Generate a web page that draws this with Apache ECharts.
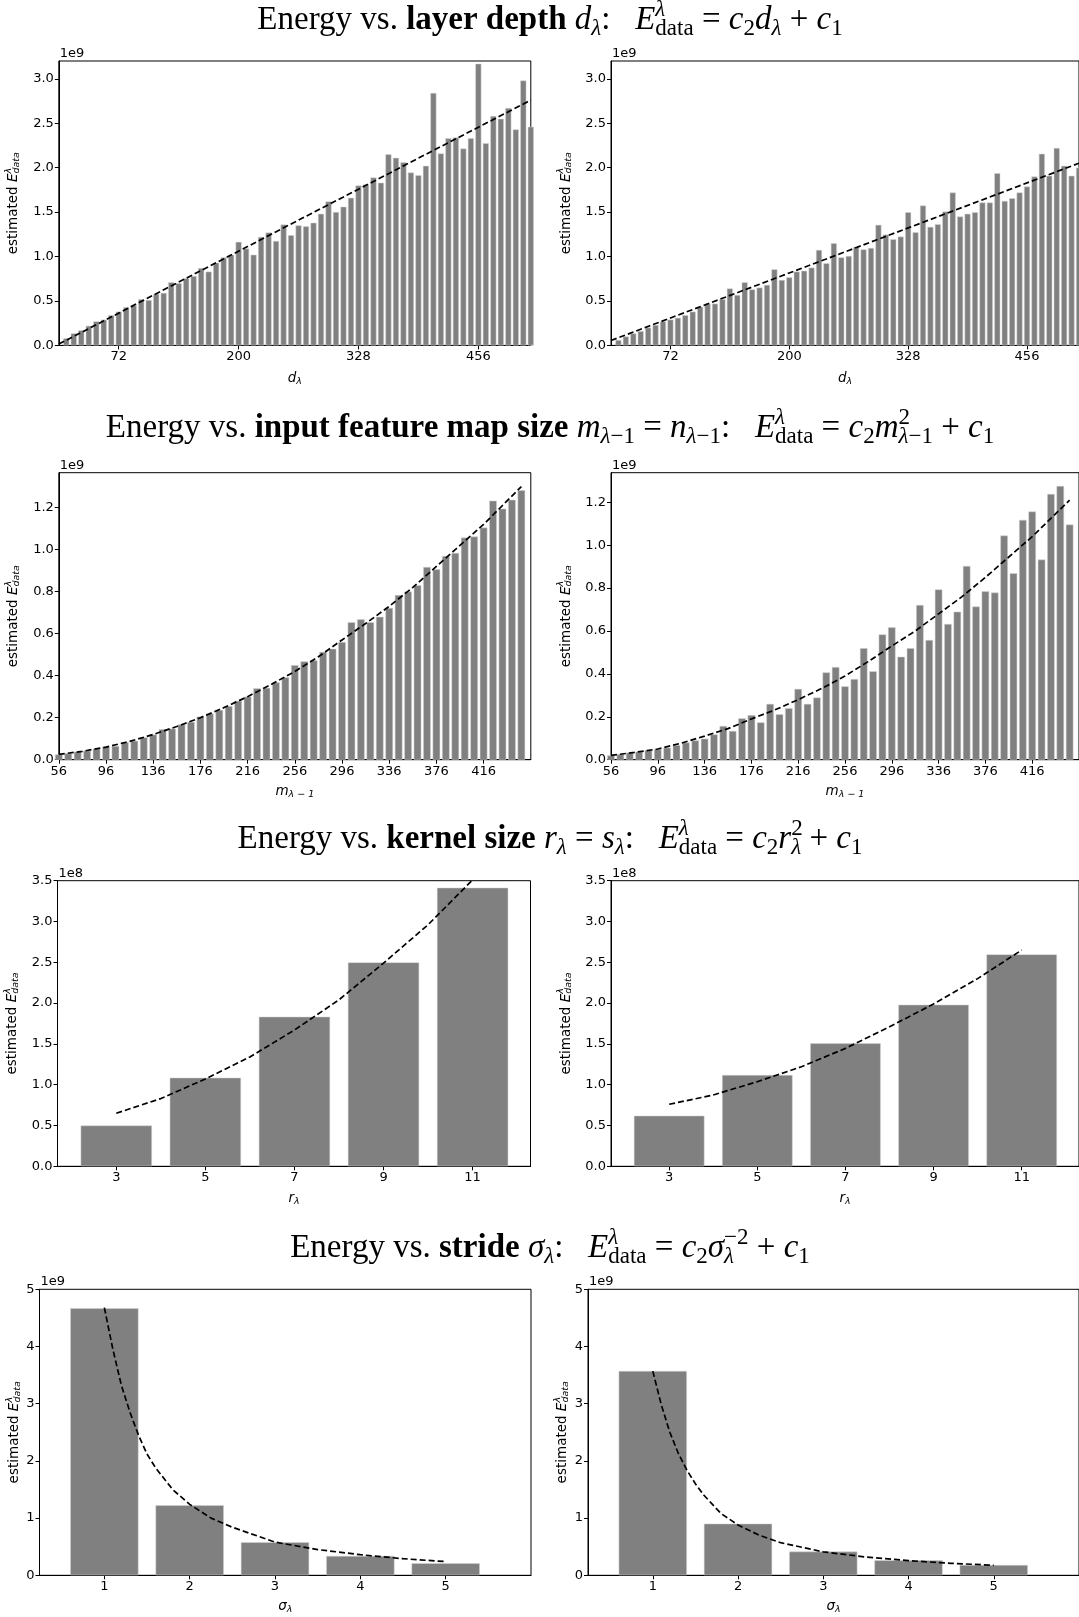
<!DOCTYPE html>
<html><head><meta charset="utf-8">
<script src="https://cdn.jsdelivr.net/npm/echarts@6/dist/echarts.min.js"></script>
<style>html,body{margin:0;padding:0;background:#fff}#c{width:1079px;height:1617px}</style>
</head><body><div id="c"></div>
<script>
// ---------- DATA ----------
const depthX = [16,24,32,40,48,56,64,72,80,88,96,104,112,120,128,136,144,152,160,168,176,184,192,200,208,216,224,232,240,248,256,264,272,280,288,296,304,312,320,328,336,344,352,360,368,376,384,392,400,408,416,424,432,440,448,456,464,472,480,488,496,504,512];
const depthLeft = [0.08,0.135,0.17,0.22,0.27,0.29,0.34,0.38,0.43,0.45,0.52,0.51,0.58,0.59,0.71,0.70,0.755,0.78,0.87,0.83,0.93,0.99,1.02,1.165,1.09,1.02,1.22,1.27,1.175,1.36,1.24,1.35,1.34,1.38,1.48,1.62,1.50,1.56,1.66,1.80,1.81,1.89,1.83,2.15,2.11,2.06,1.945,1.915,2.02,2.84,2.16,2.33,2.34,2.215,2.33,3.17,2.275,2.58,2.55,2.67,2.43,2.98,2.46];
const depthRight = [0.06,0.10,0.135,0.16,0.20,0.23,0.27,0.29,0.31,0.34,0.38,0.435,0.47,0.47,0.52,0.64,0.567,0.71,0.63,0.65,0.68,0.856,0.736,0.766,0.83,0.84,0.875,1.074,0.924,1.15,0.99,1.006,1.11,1.08,1.096,1.356,1.247,1.194,1.224,1.498,1.273,1.573,1.333,1.363,1.506,1.72,1.45,1.48,1.498,1.607,1.607,1.938,1.626,1.656,1.72,1.787,1.90,2.155,1.908,2.22,2.02,1.908,2.0];
const depthFitX = [8, 512];
const depthFitLeft = [0.015, 2.76];
const depthFitRight = [0.055, 2.05];
const depthTicks = [72, 200, 328, 456];
const depthYTicks = [0, 0.5, 1.0, 1.5, 2.0, 2.5, 3.0];

const mapX = [56,64,72,80,88,96,104,112,120,128,136,144,152,160,168,176,184,192,200,208,216,224,232,240,248,256,264,272,280,288,296,304,312,320,328,336,344,352,360,368,376,384,392,400,408,416,424,432,440,448];
const mapLeft = [0.025,0.03,0.038,0.043,0.052,0.062,0.065,0.083,0.09,0.106,0.12,0.145,0.148,0.168,0.18,0.205,0.22,0.237,0.255,0.28,0.30,0.34,0.342,0.368,0.392,0.45,0.468,0.473,0.513,0.528,0.56,0.654,0.668,0.654,0.68,0.722,0.784,0.80,0.83,0.917,0.906,0.97,0.984,1.057,1.062,1.105,1.233,1.195,1.237,1.283];
const mapRight = [0.02,0.026,0.033,0.037,0.045,0.048,0.056,0.068,0.08,0.09,0.098,0.118,0.157,0.134,0.193,0.208,0.174,0.26,0.212,0.24,0.33,0.26,0.29,0.407,0.432,0.342,0.376,0.52,0.412,0.584,0.617,0.48,0.52,0.721,0.558,0.794,0.633,0.69,0.903,0.714,0.785,0.779,1.045,0.869,1.118,1.157,0.933,1.239,1.276,1.096];
const mapFitX = [56,76,96,116,136,156,176,196,216,236,256,276,296,316,336,356,376,396,416,432,448];
const mapFitLeft = [0.025,0.04,0.06,0.087,0.12,0.158,0.20,0.248,0.30,0.358,0.42,0.49,0.57,0.648,0.73,0.82,0.92,1.02,1.12,1.21,1.30];
const mapFitRight = [0.02,0.034,0.05,0.077,0.11,0.145,0.19,0.232,0.28,0.332,0.39,0.458,0.53,0.60,0.68,0.76,0.85,0.945,1.04,1.125,1.21];
const mapTicks = [56,96,136,176,216,256,296,336,376,416];
const mapYTicks = [0, 0.2, 0.4, 0.6, 0.8, 1.0, 1.2];

const kernelX = [3,5,7,9,11];
const kernelLeft = [0.50,1.086,1.833,2.499,3.414];
const kernelRight = [0.62,1.119,1.507,1.98,2.597];
const kernelFitX = [3,4,5,6,7,8,9,10,11];
const kernelFitLeft = [0.65,0.83,1.07,1.34,1.67,2.04,2.49,2.96,3.51];
const kernelFitRight = [0.76,0.874,1.037,1.22,1.445,1.71,1.99,2.30,2.65];
const kernelYTicks = [0,0.5,1.0,1.5,2.0,2.5,3.0,3.5];

const strideX = [1,2,3,4,5];
const strideLeft = [4.668,1.224,0.577,0.338,0.21];
const strideRight = [3.572,0.903,0.414,0.262,0.18];
const strideFitX = [1,1.1,1.2,1.3,1.4,1.5,1.6,1.8,2,2.25,2.5,3,3.5,4,4.5,5];
const strideFitLeft = [4.68,3.95,3.32,2.85,2.45,2.12,1.88,1.50,1.24,1.0,0.84,0.58,0.45,0.36,0.29,0.24];
const strideFitRight = [3.57,2.98,2.50,2.13,1.84,1.60,1.40,1.08,0.88,0.70,0.57,0.41,0.32,0.256,0.21,0.175];
const strideYTicks = [0,1,2,3,4,5];

// ---------- STYLE / LAYOUT ----------
const SANS = 'DejaVu Sans', SERIF = 'Liberation Serif';
const TICK_FS = 13, NAME_FS = 13.5;
const rows = [
  {top: 61,    h: 284.4, lx: 58.8, rx: 611, w: 472,   xgap: 25, ygap: 35, title: 20},
  {top: 472.7, h: 287,   lx: 58.8, rx: 611, w: 472,   xgap: 24, ygap: 35, title: 428},
  {top: 880.7, h: 285.6, lx: 57.5, rx: 611, w: 473,   xgap: 24, ygap: 35, title: 839},
  {top: 1289.3,h: 286,   lx: 39.5, rx: 588, w: 491.5, xgap: 23, ygap: 13, title: 1248}
];

const TF = 33, TS = 23;
function tst(extra){ return Object.assign({fontFamily: SERIF, fontSize: TF, fill: '#000', color: '#000', align: 'left'}, extra || {}); }
const titleRich = {
  t: tst(),
  b: tst({fontWeight: 'bold'}),
  i: tst({fontStyle: 'italic'}),
  si: tst({fontSize: TS, fontStyle: 'italic', padding: [17,0,0,0]}),
  sr: tst({fontSize: TS, padding: [17,0,0,0]}),
  si0: tst({fontSize: TS, fontStyle: 'italic', padding: [17,0,0,0], width: 0}),
  pi0: tst({fontSize: TS, fontStyle: 'italic', padding: [0,0,21,0], width: 0}),
  pr0: tst({fontSize: TS, padding: [0,0,21,0], width: 0}),
  pr: tst({fontSize: TS, padding: [0,0,21,0]})
};
const EQ = '{t|:   }{i|E}{pi0|λ}{sr|data}{t| = }{i|c}{sr|2}';
const titles = [
  '{t|Energy vs. }{b|layer depth }{i|d}{si|λ}' + EQ + '{i|d}{si|λ}{t| + }{i|c}{sr|1}',
  '{t|Energy vs. }{b|input feature map size }{i|m}{si|λ}{sr|−1}{t| = }{i|n}{si|λ}{sr|−1}' + EQ + '{i|m}{pr0|2}{si|λ}{sr|−1}{t| + }{i|c}{sr|1}',
  '{t|Energy vs. }{b|kernel size }{i|r}{si|λ}{t| = }{i|s}{si|λ}' + EQ + '{i|r}{pr0|2}{si|λ}{t| + }{i|c}{sr|1}',
  '{t|Energy vs. }{b|stride }{i|σ}{si|λ}' + EQ + '{i|σ}{si0|λ}{pr|−2}{t| + }{i|c}{sr|1}'
];

function ast(extra){ return Object.assign({fontFamily: SANS, fontSize: NAME_FS, color: '#000', align: 'left'}, extra || {}); }
const axisRich = {
  n: ast(),
  it: ast({fontStyle: 'italic'}),
  sp: ast({fontSize: 9.5, fontStyle: 'italic', width: 0, padding: [0,0,10,0]}),
  sb: ast({fontSize: 9.5, fontStyle: 'italic', padding: [6,0,0,0]})
};
const yName = '{n|estimated }{it|E}{sp|λ}{sb|data}';

const panels = [
  {row:0, side:0, x:depthX, y:depthLeft, fx:depthFitX, fy:depthFitLeft, xmin:8, xmax:512, xt:depthTicks, ymax:3.2, yt:depthYTicks, dec:1, off:'1e9', xname:'{it|d}{sb|λ}'},
  {row:0, side:1, x:depthX, y:depthRight, fx:depthFitX, fy:depthFitRight, xmin:8, xmax:512, xt:depthTicks, ymax:3.2, yt:depthYTicks, dec:1, off:'1e9', xname:'{it|d}{sb|λ}'},
  {row:1, side:0, x:mapX, y:mapLeft, fx:mapFitX, fy:mapFitLeft, xmin:56, xmax:456, xt:mapTicks, ymax:1.366, yt:mapYTicks, dec:1, off:'1e9', xname:'{it|m}{sb|λ − 1}'},
  {row:1, side:1, x:mapX, y:mapRight, fx:mapFitX, fy:mapFitRight, xmin:56, xmax:456, xt:mapTicks, ymax:1.338, yt:mapYTicks, dec:1, off:'1e9', xname:'{it|m}{sb|λ − 1}'},
  {row:2, side:0, x:kernelX, y:kernelLeft, fx:kernelFitX, fy:kernelFitLeft, xmin:1.68, xmax:12.3, xt:kernelX, ymax:3.5, yt:kernelYTicks, dec:1, off:'1e8', xname:'{it|r}{sb|λ}'},
  {row:2, side:1, x:kernelX, y:kernelRight, fx:kernelFitX, fy:kernelFitRight, xmin:1.68, xmax:12.3, xt:kernelX, ymax:3.5, yt:kernelYTicks, dec:1, off:'1e8', xname:'{it|r}{sb|λ}'},
  {row:3, side:0, x:strideX, y:strideLeft, fx:strideFitX, fy:strideFitLeft, xmin:0.24, xmax:6.0, xt:strideX, ymax:5, yt:strideYTicks, dec:0, off:'1e9', xname:'{it|σ}{sb|λ}'},
  {row:3, side:1, x:strideX, y:strideRight, fx:strideFitX, fy:strideFitRight, xmin:0.24, xmax:6.0, xt:strideX, ymax:5, yt:strideYTicks, dec:0, off:'1e9', xname:'{it|σ}{sb|λ}'}
];

const grids = [], xAxes = [], yAxes = [], series = [], graphics = [];
const black = {color: '#000', width: 1};
panels.forEach((p, k) => {
  const r = rows[p.row];
  const left = p.side ? r.rx : r.lx;
  grids.push({left: left, top: r.top, width: r.w, height: r.h, show: true, borderColor: '#000', borderWidth: 1, backgroundColor: 'rgba(0,0,0,0)'});
  xAxes.push({
    gridIndex: k, type: 'value', min: p.xmin, max: p.xmax,
    name: p.xname, nameLocation: 'middle', nameGap: r.xgap,
    nameTextStyle: {fontFamily: SANS, fontSize: NAME_FS, color: '#000', rich: axisRich},
    axisLine: {show: true, onZero: false, lineStyle: black},
    axisTick: {show: true, length: 4, customValues: p.xt, lineStyle: black},
    axisLabel: {show: true, customValues: p.xt, margin: 5, fontFamily: SANS, fontSize: TICK_FS, color: '#000'},
    splitLine: {show: false}
  });
  yAxes.push({
    gridIndex: k, type: 'value', min: 0, max: p.ymax,
    name: yName, nameLocation: 'middle', nameGap: r.ygap, nameRotate: 90,
    nameTextStyle: {fontFamily: SANS, fontSize: NAME_FS, color: '#000', rich: axisRich},
    axisLine: {show: true, onZero: false, lineStyle: black},
    axisTick: {show: true, length: 4, customValues: p.yt, lineStyle: black},
    axisLabel: {show: true, customValues: p.yt, margin: 5, fontFamily: SANS, fontSize: TICK_FS, color: '#000',
      formatter: v => Number(v).toFixed(p.dec)},
    splitLine: {show: false}
  });
  series.push({
    type: 'bar', xAxisIndex: k, yAxisIndex: k, barWidth: '80%', clip: true, silent: true,
    data: p.x.map((v, i) => [v, p.y[i]]),
    itemStyle: {color: '#808080', borderColor: '#d4d4d4', borderWidth: 0.5}
  });
  series.push({
    type: 'line', xAxisIndex: k, yAxisIndex: k, symbol: 'none', clip: true, silent: true, z: 5,
    smooth: false,
    data: p.fx.map((v, i) => [v, p.fy[i]]),
    lineStyle: {color: '#000', width: 1.7, type: [6, 3]}
  });
  graphics.push({type: 'text', x: left + 1, y: r.top - 1, z: 10,
    style: {text: p.off, fontFamily: SANS, fontSize: TICK_FS, fill: '#000', align: 'left', verticalAlign: 'bottom', textAlign: 'left', textVerticalAlign: 'bottom'}});
});
rows.forEach((r, i) => {
  graphics.push({type: 'text', x: 550, y: r.title, z: 10,
    style: {text: titles[i], rich: titleRich, fontFamily: SERIF, fontSize: TF, fill: '#000',
      align: 'center', verticalAlign: 'middle', textAlign: 'center', textVerticalAlign: 'middle'}});
});

const chart = echarts.init(document.getElementById('c'), null, {renderer: 'canvas'});
chart.setOption({
  animation: false,
  backgroundColor: '#fff',
  grid: grids, xAxis: xAxes, yAxis: yAxes, series: series, graphic: graphics
});
</script></body></html>
